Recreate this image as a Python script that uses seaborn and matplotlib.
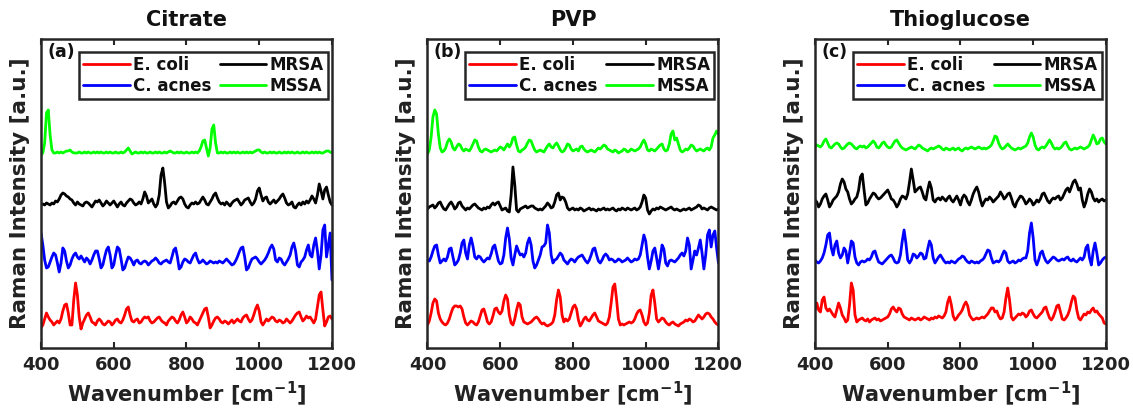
import numpy as np
import pandas as pd
import matplotlib
matplotlib.use("Agg")
import matplotlib.pyplot as plt
import seaborn as sns

# Raman shift axis, sampled every 5 cm^-1
wavenumber = np.arange(400, 1201, 5)

panels = ["Citrate", "PVP", "Thioglucose"]
panel_tags = ["(a)", "(b)", "(c)"]
species = ["E. coli", "C. acnes", "MRSA", "MSSA"]
colors = ["#ff0000", "#0000ff", "#000000", "#00ff00"]

# ---- Citrate-capped substrate: relative intensities (a.u.) ----
citrate_ecoli = [
    -3, 0, 6, 12, 8, 5, 3, 0, 2, 4, 2, 6, 14, 20, 21, 12, 0, 0, 25, 42,
    30, 8, -4, 2, 6, 10, 12, 8, 3, 2, 0, 4, 6, 4, 1, 0, 2, 4, 3, 0,
    2, 5, 6, 3, 2, 5, 10, 16, 18, 10, 4, 3, 5, 6, 2, 3, 6, 8, 7, 8,
    4, 2, 3, 5, 7, 8, 5, 3, 2, 0, 4, 6, 8, 7, 4, 2, 5, 10, 13, 8,
    2, 4, 8, 6, 3, 2, 0, 4, 8, 12, 16, 17, 8, -3, 0, 4, 7, 8, 6, 3,
    2, 4, 3, 1, 3, 5, 2, 4, 6, 4, 3, 7, 9, 10, 6, 3, 5, 10, 16, 20,
    14, 3, 0, 3, 6, 4, 6, 8, 7, 4, 3, 5, 4, 2, 3, 6, 4, 2, 4, 7,
    10, 12, 13, 8, 4, 6, 9, 7, 8, 5, 2, 6, 18, 30, 33, 15, -1, 3, 8, 9,
    6]
citrate_cacnes = [
    32, 20, 5, -3, -2, 3, 8, 12, 10, 2, -7, 2, 17, 14, 4, -3, 0, 6, 10, 12,
    8, 6, 9, 6, 3, 7, 5, 1, 5, 10, 14, 14, 6, -3, 0, 8, 15, 18, 10, -3,
    0, 10, 18, 16, 6, -5, -3, 3, 8, 7, 4, 0, 4, 5, 2, 1, 3, 4, 3, 0,
    2, 4, 5, 7, 5, 2, 1, 3, 4, 5, 3, 2, 8, 15, 17, 8, -4, -2, 3, 6,
    5, 3, 2, 6, 10, 12, 6, 2, 3, 5, 3, 1, 2, 4, 3, 2, 3, 2, 4, 3,
    2, 4, 6, 4, 2, 0, 1, 4, 8, 13, 17, 18, 8, -5, -3, 2, 6, 7, 8, 6,
    3, 1, 3, 5, 8, 12, 17, 20, 16, 5, 3, 7, 6, 2, 0, 3, 6, 10, 18, 22,
    14, 0, -2, 3, 5, 8, 15, 20, 10, 8, 20, 27, 14, -4, 10, 35, 40, 8, 20, 32,
    -15]
citrate_mrsa = [
    0, 1, 0, 2, 1, 0, 2, 1, 4, 3, 6, 10, 12, 11, 9, 8, 6, 5, 2, 0,
    3, 1, 0, -1, 2, 3, 2, 0, -2, 1, 4, 3, 5, 2, -1, 1, 4, 2, 0, 2,
    4, 1, -2, 1, 3, 0, -1, 2, 4, 6, 5, 2, 0, 1, 3, 1, 6, 13, 9, 2,
    4, 6, 1, -2, 1, 10, 30, 37, 22, 3, -3, -1, 2, 3, 1, 4, 7, 8, 6, 1,
    -2, -3, 0, 2, 1, 3, 1, 2, 5, 8, 5, 1, 0, 3, 6, 10, 12, 7, 3, 1,
    2, 0, 3, 1, -1, 2, 4, 5, 6, 3, 0, 2, 5, 6, 7, 3, 0, 2, 6, 14,
    17, 10, 4, 7, 8, 3, 1, 3, 5, 2, 4, 6, 9, 11, 7, 2, 0, 1, 3, -2,
    -3, 0, 2, 0, 3, 1, 4, 2, 5, 9, 6, 2, 10, 21, 14, 6, 15, 18, 10, 3,
    0]
citrate_mssa = [
    -2, 0, 10, 40, 43, 18, 3, 0, 0, 1, 0, 1, 0, 1, 2, 2, 3, 1, 0, 0,
    0, 1, 0, 0, 1, 0, 1, 0, 0, 1, 0, 1, 0, 1, 0, 0, 1, 0, 1, 0,
    0, 1, 0, 0, 1, 0, 1, 3, 5, 2, -1, 0, 1, 0, 0, 1, 0, 1, 0, 0,
    1, 0, 0, 1, 0, 1, 0, 0, 1, 0, 1, 2, 1, 0, 0, 1, 0, 1, 0, 0,
    1, 0, 0, 1, 0, 1, 0, 2, 6, 12, 13, 5, -3, 5, 24, 28, 10, 0, 0, 1,
    0, 1, 0, 0, 1, 0, 1, 0, 1, 0, 0, 1, 0, 1, 0, 1, 0, 1, 2, 3,
    3, 1, 0, 1, 0, 0, 1, 0, 1, 0, 0, 1, 0, 0, 1, 0, 1, 0, 1, 0,
    0, 1, 0, 0, 1, 0, 1, 0, 0, 1, 0, 1, 0, 1, 0, 0, 1, 2, 2, 1,
    0]

# ---- PVP-capped substrate ----
pvp_ecoli = [
    0, 4, 12, 22, 26, 24, 12, 6, 3, 1, 0, 2, 6, 12, 17, 19, 19, 18, 19, 16,
    8, 2, 0, 2, 4, 3, 1, 0, 3, 9, 15, 16, 10, 3, 1, 3, 9, 16, 17, 13,
    11, 14, 24, 30, 26, 10, 2, 0, 6, 15, 22, 20, 8, 3, 2, 1, 2, 3, 5, 7,
    8, 6, 3, 1, 2, 0, -1, 0, 1, 3, 10, 25, 35, 28, 10, 3, 6, 4, 6, 12,
    18, 20, 16, 5, -1, 2, 6, 8, 5, 4, 7, 10, 12, 8, 4, 3, 2, 1, 0, 2,
    8, 22, 38, 41, 25, 6, 0, 1, 0, 1, 2, 3, 2, 3, 6, 11, 14, 15, 10, 3,
    0, 2, 12, 30, 35, 22, 6, 3, 5, 7, 6, 3, 1, 0, 2, 3, 1, 0, -1, 1,
    2, 3, 5, 4, 6, 5, 3, 4, 7, 10, 8, 6, 8, 11, 12, 11, 8, 6, 3, 1,
    0]
pvp_cacnes = [
    3, 2, 6, 12, 17, 18, 8, 0, 2, 4, 2, 6, 14, 15, 6, -2, 0, 3, 10, 20,
    23, 10, 4, 18, 25, 17, 6, 4, 7, 6, 3, 1, 3, 5, 4, 9, 16, 18, 10, 2,
    -1, 0, 8, 25, 35, 24, 5, -2, 8, 17, 12, 8, 9, 6, 10, 20, 25, 18, 2, -5,
    -2, 3, 8, 16, 17, 20, 38, 30, 8, 0, 3, 4, 7, 10, 8, 3, 1, -1, 2, 4,
    3, 1, 4, 6, 7, 8, 5, 2, 0, 3, 8, 14, 15, 8, 2, 0, 3, 7, 9, 7,
    3, 4, 3, 1, 2, 4, 3, 1, 2, 3, 5, 3, 1, 2, 4, 3, 4, 8, 18, 28,
    22, 6, -6, 2, 12, 15, 5, -6, 5, 18, 14, 0, -3, 2, 3, 2, 1, 3, 5, 8,
    10, 7, 12, 25, 18, -6, 3, 12, 8, 15, 23, 10, -6, 8, 28, 33, 16, 28, 32, 15,
    0]
pvp_mrsa = [
    1, 3, 4, 5, 2, 4, 7, 8, 4, 1, 0, 3, 6, 8, 5, 1, 3, 7, 8, 4,
    2, 0, 2, 1, 3, 5, 6, 4, 2, 1, 0, 2, 1, 3, 2, 5, 7, 5, 7, 8,
    4, 0, 1, 2, -1, -2, 15, 43, 25, 0, -2, 1, 2, 3, 4, 2, 3, 4, 4, 2,
    1, 0, 1, 0, 2, 4, 7, 5, 2, 3, 8, 15, 17, 10, 13, 12, 8, 2, 0, 1,
    2, 0, 1, 0, 2, 1, -1, 0, 1, 2, 0, 1, 0, -1, 1, 0, 1, 2, 0, 1,
    0, 1, 2, 0, -1, 1, 0, 2, 1, 0, 2, 1, 0, 1, 2, 0, 1, 3, 8, 15,
    12, 0, -4, -1, 1, 0, 2, 1, 3, 2, 1, 0, 1, 2, 3, 1, 0, 1, 0, -1,
    0, 1, 0, 1, 2, 0, 1, 2, 3, 5, 4, 1, 2, 1, 0, 2, 3, 2, 1, 0,
    1]
pvp_mssa = [
    -2, 2, 15, 35, 42, 38, 18, 4, 0, 1, 4, 10, 13, 10, 4, 2, 5, 8, 7, 3,
    1, 3, 2, 1, 4, 8, 12, 11, 5, 1, 0, 2, 3, 2, 1, 0, 1, 2, 1, 3,
    5, 4, 2, 5, 8, 5, 8, 14, 15, 7, 1, 0, 2, 3, 5, 9, 12, 11, 6, 2,
    0, 1, 2, 1, 0, 3, 6, 8, 5, 4, 7, 9, 6, 2, 0, 1, 4, 8, 7, 3,
    1, 2, 3, 1, 5, 6, 3, 1, 0, 1, 2, 1, 0, 2, 4, 3, 5, 7, 6, 3,
    2, 1, 0, 2, 1, -1, 0, 1, 3, 2, 0, 1, 3, 2, 1, 2, 3, 5, 9, 12,
    8, 2, 1, 3, 2, 1, 3, 5, 7, 8, 3, 1, 2, 8, 18, 21, 12, 14, 8, 2,
    0, 1, 3, 2, 4, 7, 6, 3, 1, 2, 3, 2, 1, 3, 4, 2, 5, 14, 17, 21,
    18]

# ---- Thioglucose-capped substrate ----
thio_ecoli = [
    10, 17, 10, 8, 20, 23, 12, 9, 11, 8, 5, 3, 10, 17, 12, 5, 2, -2, 0, 15,
    37, 30, 5, -2, 0, 1, 2, 0, -1, 1, -2, 0, 1, 2, 0, 1, -1, 0, 1, 2,
    3, 6, 11, 13, 10, 8, 12, 11, 6, 3, 2, 1, 0, 2, 1, 0, 1, 2, 0, 1,
    3, 2, 1, 0, 2, 1, 3, 2, 4, 3, 2, 4, 8, 18, 23, 15, 4, 0, 2, 5,
    7, 10, 15, 18, 14, 5, 2, 0, 1, 2, 1, 2, 3, 2, 4, 6, 9, 12, 12, 8,
    9, 4, 1, 2, 8, 22, 32, 20, 3, 0, 2, 4, 6, 5, 7, 6, 3, 5, 9, 10,
    6, 3, 2, 4, 6, 8, 12, 13, 7, 2, 0, 3, 8, 14, 15, 8, 1, 0, 2, 5,
    10, 18, 24, 22, 10, 2, 0, 3, 6, 5, 8, 7, 10, 12, 8, 9, 6, 4, 2, -3,
    -4]
thio_cacnes = [
    3, 1, 0, 2, 5, 10, 18, 28, 30, 15, 8, 18, 22, 10, 5, 8, 15, 12, 0, 10,
    22, 20, 6, 0, -2, 1, 2, 1, 2, 4, 3, 6, 11, 12, 6, 1, 0, -1, 1, 3,
    5, 7, 8, 5, 1, 0, 1, 8, 22, 33, 20, 3, 0, 3, 9, 8, 5, 7, 10, 9,
    4, 5, 14, 22, 18, 5, 0, 3, 6, 8, 5, 2, 0, 1, 0, 2, 1, 0, 2, 4,
    5, 7, 6, 3, 1, 0, 2, 1, 0, 1, 0, 2, 3, 5, 9, 13, 12, 5, 0, 1,
    2, 1, 3, 8, 12, 10, 2, 0, 1, 2, 0, 1, 3, 2, 4, 5, 5, 12, 30, 40,
    25, 3, -2, 3, 10, 12, 6, 2, 0, 2, 4, 6, 5, 3, 2, 3, 4, 3, 5, 6,
    3, 2, 4, 2, 1, 3, 5, 3, 6, 15, 18, 5, -2, 12, 20, 10, -2, 0, 3, 5,
    6]
thio_mrsa = [
    2, 0, -5, -2, 3, 6, 8, 2, -5, -2, 2, 4, 6, 10, 18, 23, 20, 13, 10, 3,
    -2, 0, 3, 5, 12, 25, 28, 12, -3, -1, 3, 6, 9, 8, 5, 3, 4, 6, 8, 10,
    12, 8, 3, 2, -1, -5, -2, 3, 6, 5, 3, 8, 20, 33, 22, 10, 12, 14, 15, 10,
    4, 2, 12, 20, 14, 2, 0, 3, 4, 2, 5, 3, 1, 4, 6, 2, 0, 3, 6, 2,
    -3, 4, 7, 5, 0, -3, 2, 8, 12, 15, 10, 2, -4, 0, 3, 2, 5, 3, 0, 2,
    4, 6, 10, 7, 3, 5, 8, 9, 4, -2, -5, 0, 3, 6, 5, 2, -2, 0, 3, 1,
    -3, -1, 2, 0, 3, 8, 9, 5, 1, -1, 2, 4, 3, 5, 6, 2, 4, 8, 12, 14,
    10, 15, 20, 22, 18, 12, 14, 2, -5, 0, 8, 13, 10, 4, 1, 3, 0, 2, 3, 1,
    2]
thio_mssa = [
    2, 4, 3, 2, 4, 8, 10, 6, 2, 1, 3, 5, 6, 5, 2, 0, 1, 3, 5, 6,
    5, 3, 1, 0, 2, 3, 2, 3, 1, 2, 4, 6, 8, 6, 2, 1, 3, 6, 7, 4,
    2, 1, 2, 5, 8, 9, 6, 3, 1, 0, -1, 0, 1, 2, 1, 0, 2, 4, 3, 1,
    0, -1, -2, 0, 1, 0, 1, 2, 3, 2, 0, -1, 1, 0, -1, 0, 1, -1, 0, 1,
    -1, -2, 0, 1, 0, 1, 2, 1, 0, 1, 2, 1, 0, 1, 0, 1, 2, 4, 8, 13,
    12, 6, 2, 0, 1, 3, 5, 3, 1, 0, -1, 0, 1, 0, 1, 2, 3, 6, 12, 16,
    12, 4, 0, -1, 1, 2, 1, 3, 6, 9, 6, 2, 0, 1, 0, 1, 3, 6, 7, 3,
    0, -1, 0, 1, 0, 1, 2, 1, 0, 1, 2, 4, 9, 14, 10, 5, 6, 10, 11, 7,
    5]

spectra = {
    "Citrate": [citrate_ecoli, citrate_cacnes, citrate_mrsa, citrate_mssa],
    "PVP": [pvp_ecoli, pvp_cacnes, pvp_mrsa, pvp_mssa],
    "Thioglucose": [thio_ecoli, thio_cacnes, thio_mrsa, thio_mssa],
}

# vertical stacking of the four spectra in each panel
stack_offsets = {
    "Citrate": [23, 83, 143, 195],
    "PVP": [23, 85, 138, 196],
    "Thioglucose": [28, 85, 146, 199],
}

frames = []
for panel in panels:
    for name, values, offset in zip(species, spectra[panel], stack_offsets[panel]):
        vals = np.asarray(values, dtype=float)
        frames.append(pd.DataFrame({
            "panel": panel,
            "species": name,
            "wavenumber": wavenumber,
            "shifted": vals + offset,
        }))
df = pd.concat(frames, ignore_index=True)

sns.set_theme(style="white")
plt.rcParams["font.family"] = ["DejaVu Sans"]
plt.rcParams["font.weight"] = "bold"
plt.rcParams["mathtext.fontset"] = "dejavusans"
plt.rcParams["mathtext.default"] = "bf"

edge = "#262626"
fig = plt.figure(figsize=(11.33, 4.17), dpi=100)
lefts = [0.0362, 0.3773, 0.7193]
axes = [fig.add_axes([l, 0.1655, 0.2568, 0.741]) for l in lefts]

for ax, panel, tag in zip(axes, panels, panel_tags):
    sub = df[df["panel"] == panel]
    sns.lineplot(data=sub, x="wavenumber", y="shifted", hue="species",
                 hue_order=species, palette=colors, linewidth=2.0,
                 estimator=None, sort=False, legend=False, ax=ax)
    ax.set_xlim(400, 1200)
    ax.set_ylim(0, 309)
    ax.set_xticks([400, 600, 800, 1000, 1200])
    ax.set_yticks([])
    ax.tick_params(axis="x", direction="in", top=True, bottom=True,
                   length=4, width=1.5, color=edge, labelsize=13, pad=6,
                   labelcolor="#222222")
    for sp in ax.spines.values():
        sp.set_color(edge)
        sp.set_linewidth(1.8)
        sp.set_visible(True)
    ax.set_xlabel("Wavenumber [cm$^{-1}$]", fontsize=15, fontweight="bold",
                  color="#222222", labelpad=4)
    ax.set_ylabel("Raman Intensity [a.u.]", fontsize=15.5, fontweight="bold",
                  color="#222222", labelpad=8)
    ax.set_title(panel, fontsize=15, fontweight="bold", color="#111111", pad=9)
    ax.text(0.022, 0.987, tag, transform=ax.transAxes, ha="left", va="top",
            fontsize=12.5, fontweight="bold", color="#111111")

    handles = ax.get_lines()[:4]
    leg = ax.legend(handles, species, ncol=2, loc="upper right",
                    bbox_to_anchor=(0.986, 0.958), fontsize=12,
                    handlelength=2.8, handletextpad=0.2, columnspacing=0.5,
                    labelspacing=0.15, borderpad=0.25, borderaxespad=0.0,
                    fancybox=False, framealpha=1.0)
    leg.get_frame().set_edgecolor(edge)
    leg.get_frame().set_linewidth(1.8)
    for t in leg.get_texts():
        t.set_color("#111111")

fig.savefig("out.png", dpi=100)
